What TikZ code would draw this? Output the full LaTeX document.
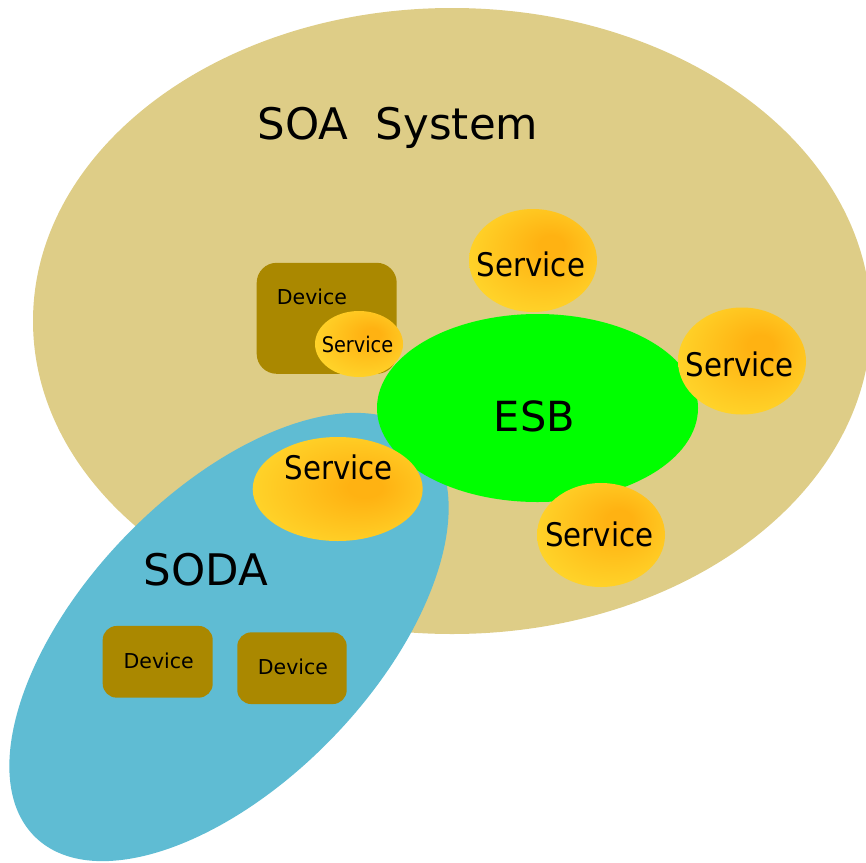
\documentclass[tikz,border=0pt]{standalone}
\usepackage{fontspec}
\setmainfont{DejaVu Sans}
\newfontfamily\condensedfont{DejaVu Sans Condensed}
\usetikzlibrary{shapes.geometric}

\definecolor{soatan}{HTML}{DECD87}
\definecolor{sodablue}{HTML}{5FBCD3}
\definecolor{devbrown}{HTML}{AA8800}
\definecolor{busgreen}{HTML}{00FF00}
\definecolor{svcyellow}{HTML}{FFD42A}
\definecolor{svcorange}{HTML}{FFB212}

% glow shifted towards the upper right of each service
\pgfdeclareradialshading{svcglow}{\pgfpoint{8bp}{8bp}}{%
  color(0bp)=(svcorange); color(5bp)=(svcorange); color(30bp)=(svcyellow); color(50bp)=(svcyellow)}
\pgfdeclareradialshading{svcglowwide}{\pgfpoint{9bp}{1bp}}{%
  color(0bp)=(svcorange); color(5bp)=(svcorange); color(30bp)=(svcyellow); color(50bp)=(svcyellow)}

\tikzset{
  blob/.style={ellipse, inner sep=0pt, outer sep=0pt},
  service/.style={blob, shade, shading=svcglow},
  devicebox/.style={rectangle, fill=devbrown, inner sep=0pt, rounded corners=14pt},
  bigtext/.style={font=\fontsize{43.5}{43.5}\selectfont, anchor=base, inner sep=0pt},
  svctext/.style={font=\condensedfont\fontsize{32.5}{32.5}\selectfont, anchor=base, inner sep=0pt},
  devtext/.style={font=\fontsize{20.5}{20.5}\selectfont, anchor=base, inner sep=0pt},
}

\begin{document}
\begin{tikzpicture}[x=1pt, y=1pt]
  \useasboundingbox (0,0) rectangle (866,-862);
  \clip (0,0) rectangle (866,-862);

  % the SOA system and the SODA domain
  \node[blob, fill=soatan, minimum width=838pt, minimum height=626pt] (soa) at (452,-321) {};
  \node[blob, fill=sodablue, minimum width=557pt, minimum height=289pt, rotate=46] (soda) at (229,-637) {};

  % device holding a service
  \node[devicebox, rounded corners=20pt, minimum width=140pt, minimum height=111pt] (dev0) at (326.7,-318.3) {};
  \node[devtext] (dev0t) at (312,-304) {Device};

  % enterprise service bus
  \node[blob, fill=busgreen, minimum width=321pt, minimum height=188pt] (esb) at (537.5,-408) {};
  \node[bigtext, font=\fontsize{41.5}{41.5}\selectfont] (esbt) at (534.5,-431.7) {ESB};

  % services around the bus
  \node[service, minimum width=128pt, minimum height=103pt] (svc1) at (533,-260.5) {};
  \node[svctext] (svc1t) at (531,-276) {Service};
  \node[service, minimum width=128pt, minimum height=107pt] (svc2) at (742,-361) {};
  \node[svctext] (svc2t) at (739.5,-376) {Service};
  \node[service, minimum width=128pt, minimum height=104pt] (svc3) at (601,-535) {};
  \node[svctext] (svc3t) at (599.2,-546.7) {Service};
  \node[service, shading=svcglowwide, minimum width=170pt, minimum height=104pt] (svc4) at (337.7,-489) {};
  \node[svctext] (svc4t) at (338.7,-479.3) {Service};
  \node[service, minimum width=88pt, minimum height=66pt] (svc5) at (359,-344) {};
  \node[svctext, font=\condensedfont\fontsize{21.5}{21.5}\selectfont] (svc5t) at (357.5,-352.7) {Service};

  % devices in the SODA domain
  \node[devicebox, minimum width=110pt, minimum height=71.7pt] (dev1) at (157.7,-661.8) {};
  \node[devtext] (dev1t) at (158.7,-668) {Device};
  \node[devicebox, minimum width=109.4pt, minimum height=71.7pt] (dev2) at (292,-668.2) {};
  \node[devtext] (dev2t) at (293,-674.3) {Device};

  % titles
  \node[bigtext] (soat) at (397.8,-139.3) {SOA\ \ System};
  \node[bigtext] (sodat) at (205.8,-585) {SODA};
\end{tikzpicture}
\end{document}
